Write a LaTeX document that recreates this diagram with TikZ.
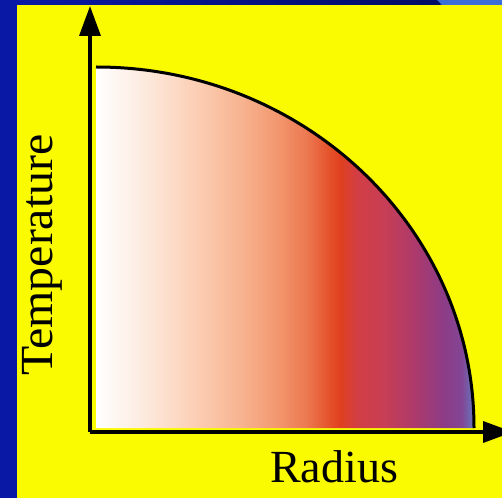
\documentclass[tikz,border=0pt]{standalone}
\usepackage{fontspec}
\setmainfont{Liberation Serif}
\usetikzlibrary{arrows.meta}
\definecolor{slideblue}{RGB}{10,25,165}
\definecolor{slidenavy}{RGB}{0,12,100}
\definecolor{slidesky}{RGB}{60,110,215}
\definecolor{slideyellow}{RGB}{250,250,0}
% colour stops of the temperature fill
\definecolor{heatA}{RGB}{253,236,226}
\definecolor{heatB}{RGB}{252,210,185}
\definecolor{heatC}{RGB}{247,180,145}
\definecolor{heatD}{RGB}{243,155,115}
\definecolor{heatE}{RGB}{236,120,80}
\definecolor{heatF}{RGB}{228,80,40}
\definecolor{heatG}{RGB}{224,64,32}
\definecolor{heatH}{RGB}{210,62,68}
\definecolor{heatI}{RGB}{200,62,85}
\definecolor{heatJ}{RGB}{170,58,110}
\definecolor{heatK}{RGB}{140,60,135}
\definecolor{heatL}{RGB}{130,70,150}
\definecolor{heatM}{RGB}{100,120,190}
\pgfdeclarehorizontalshading{heat}{100bp}{color(0bp)=(white); color(25bp)=(white);
  color(30.8bp)=(heatA); color(37.4bp)=(heatB); color(44bp)=(heatC);
  color(48.4bp)=(heatD); color(52.9bp)=(heatE); color(56bp)=(heatF);
  color(57.3bp)=(heatG); color(59.5bp)=(heatH); color(63bp)=(heatI);
  color(67.5bp)=(heatJ); color(71bp)=(heatK); color(73.4bp)=(heatL);
  color(75bp)=(heatM); color(100bp)=(heatM)}

\begin{document}
\begin{tikzpicture}[
    x=1pt, y=1pt,
    axis/.style={line width=3.5pt, -{Triangle[length=30pt, width=21pt]}},
    curve/.style={line width=3pt},
    axislabel/.style={font=\fontsize{46}{50}\selectfont, inner sep=0pt}
]
\clip (0,0) rectangle (502,498);

% slide background
\fill[slideblue] (0,0) rectangle (502,498);
\shade[left color=slideblue, right color=slidenavy] (17,493) rectangle (440,498);
\fill[slidesky] (437,498) -- (502,498) -- (502,493) -- (442,493) -- cycle;
\fill[slideyellow] (17,0) rectangle (502,493);

% profile
\coordinate (corner) at (96,70);
\coordinate (peak) at (96,431);
\shade[shading=heat] (corner) -- (peak)
    arc[start angle=90, end angle=0, x radius=378, y radius=361] -- cycle;
\draw[curve] (peak) arc[start angle=90, end angle=0, x radius=378, y radius=361];

% axes
\coordinate (origin) at (90,66);
\coordinate (ytip) at (90,492);
\coordinate (xtip) at (513,66);
\draw[axis] (origin) -- (ytip);
\draw[axis] (origin) -- (xtip);

% labels
\node (radius) [axislabel, anchor=base] at (334,16) {Radius};
\node (temperature) [axislabel, rotate=90, xscale=1.04, anchor=base] at (52,243) {Temperature};

\end{tikzpicture}
\end{document}
